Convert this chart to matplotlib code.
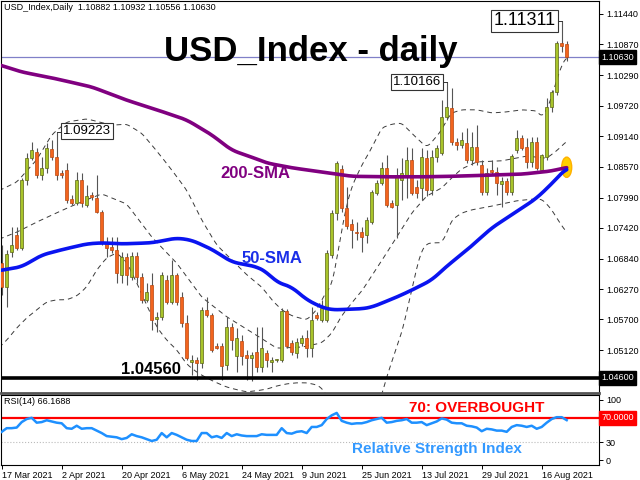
import matplotlib
matplotlib.use('Agg')
import matplotlib.pyplot as plt
from matplotlib.patches import Ellipse
from matplotlib.transforms import blended_transform_factory
import numpy as np

# daily candles, 17 Mar 2021 .. 20 Aug 2021 (bar index 0..113)
opens = [1.0676, 1.0631, 1.0697, 1.0729, 1.0704, 1.0832, 1.0873, 1.0885, 1.0842, 1.0855,
         1.0890, 1.0875, 1.0845, 1.0851, 1.0796, 1.0789, 1.0832, 1.0785, 1.0804, 1.0798,
         1.0772, 1.0716, 1.0706, 1.0700, 1.0654, 1.0687, 1.0650, 1.0689, 1.0650, 1.0607,
         1.0635, 1.0571, 1.0575, 1.0644, 1.0603, 1.0654, 1.0612, 1.0563, 1.0490, 1.0494,
         1.0488, 1.0588, 1.0578, 1.0520, 1.0520, 1.0484, 1.0556, 1.0501, 1.0530, 1.0503,
         1.0498, 1.0509, 1.0481, 1.0507, 1.0490, 1.0494, 1.0494, 1.0586, 1.0526, 1.0507,
         1.0526, 1.0535, 1.0516, 1.0578, 1.0569, 1.0569, 1.0691, 1.0770, 1.0853, 1.0780,
         1.0750, 1.0735, 1.0735, 1.0729, 1.0753, 1.0808, 1.0827, 1.0855, 1.0789, 1.0785,
         1.0832, 1.0842, 1.0870, 1.0819, 1.0817, 1.0873, 1.0813, 1.0875, 1.0883, 1.0950,
         1.0967, 1.0903, 1.0898, 1.0901, 1.0870, 1.0894, 1.0860, 1.0809, 1.0851, 1.0847,
         1.0825, 1.0830, 1.0809, 1.0888, 1.0911, 1.0894, 1.0866, 1.0903, 1.0851, 1.0875,
         1.0969, 1.0997, 1.1089, 1.10882]
highs = [1.0710, 1.0700, 1.0744, 1.0744, 1.0836, 1.0883, 1.0903, 1.0892, 1.0875, 1.0902,
         1.0907, 1.09223, 1.0851, 1.0864, 1.0804, 1.0847, 1.0845, 1.0823, 1.0810, 1.0842,
         1.0776, 1.0725, 1.0725, 1.0725, 1.0697, 1.0695, 1.0697, 1.0697, 1.0657, 1.0639,
         1.0657, 1.0584, 1.0659, 1.0654, 1.0682, 1.0657, 1.0622, 1.0578, 1.0503, 1.0499,
         1.0593, 1.0612, 1.0582, 1.0526, 1.0526, 1.0575, 1.0563, 1.0554, 1.0541, 1.0513,
         1.0509, 1.0556, 1.0556, 1.0513, 1.0499, 1.0496, 1.0591, 1.0589, 1.0531, 1.0535,
         1.0541, 1.0550, 1.0593, 1.0584, 1.0607, 1.0700, 1.0776, 1.0868, 1.0860, 1.0819,
         1.0759, 1.0753, 1.0744, 1.0763, 1.0813, 1.0832, 1.0866, 1.0879, 1.0795, 1.0855,
         1.0873, 1.0894, 1.0892, 1.0832, 1.0892, 1.0888, 1.0888, 1.0898, 1.0982, 1.10166,
         1.1005, 1.0911, 1.0922, 1.0930, 1.0922, 1.0935, 1.0870, 1.0855, 1.0870, 1.0857,
         1.0838, 1.0836, 1.0881, 1.0926, 1.0917, 1.0911, 1.0913, 1.0913, 1.0881, 1.0986,
         1.1001, 1.1093, 1.11311, 1.10932]
lows = [1.0616, 1.0593, 1.0687, 1.0700, 1.0700, 1.0823, 1.0870, 1.0836, 1.0832, 1.0845,
        1.0870, 1.0832, 1.0836, 1.0789, 1.0785, 1.0785, 1.0781, 1.0781, 1.0795, 1.0770,
        1.0710, 1.0687, 1.0695, 1.0639, 1.0639, 1.0635, 1.0644, 1.0639, 1.0601, 1.0603,
        1.0550, 1.0546, 1.0569, 1.0599, 1.0599, 1.0597, 1.0556, 1.0494, 1.0466, 1.0456,
        1.0479, 1.0575, 1.0509, 1.0514, 1.0456, 1.0475, 1.0513, 1.0471, 1.0484, 1.0456,
        1.0455, 1.0471, 1.0471, 1.0481, 1.0471, 1.0490, 1.0490, 1.0516, 1.0503, 1.0498,
        1.0520, 1.0499, 1.0499, 1.0569, 1.0565, 1.0565, 1.0685, 1.0757, 1.0772, 1.0740,
        1.0704, 1.0719, 1.0697, 1.0714, 1.0749, 1.0804, 1.0823, 1.0781, 1.0780, 1.0723,
        1.0795, 1.0798, 1.0804, 1.0798, 1.0795, 1.0802, 1.0804, 1.0866, 1.0879, 1.0945,
        1.0898, 1.0888, 1.0892, 1.0864, 1.0860, 1.0860, 1.0804, 1.0804, 1.0842, 1.0804,
        1.0781, 1.0804, 1.0804, 1.0883, 1.0888, 1.0855, 1.0857, 1.0851, 1.0847, 1.0870,
        1.0960, 1.0992, 1.1073, 1.10556]
closes = [1.0631, 1.0693, 1.0710, 1.0704, 1.0832, 1.0873, 1.0888, 1.0842, 1.0855, 1.0892,
          1.0875, 1.0842, 1.0842, 1.0795, 1.0789, 1.0832, 1.0789, 1.0802, 1.0800, 1.0772,
          1.0716, 1.0704, 1.0700, 1.0658, 1.0687, 1.0654, 1.0689, 1.0650, 1.0607, 1.0622,
          1.0569, 1.0575, 1.0654, 1.0603, 1.0654, 1.0603, 1.0563, 1.0498, 1.0494, 1.0488,
          1.0588, 1.0578, 1.0513, 1.0516, 1.0482, 1.0556, 1.0531, 1.0535, 1.0501, 1.0498,
          1.0503, 1.0480, 1.0516, 1.0494, 1.0494, 1.0494, 1.0586, 1.0520, 1.0509, 1.0528,
          1.0535, 1.0516, 1.0569, 1.0573, 1.0591, 1.0695, 1.0770, 1.0864, 1.0780, 1.0746,
          1.0738, 1.0733, 1.0725, 1.0757, 1.0809, 1.0827, 1.0855, 1.0785, 1.0781, 1.0842,
          1.0845, 1.0870, 1.0808, 1.0808, 1.0875, 1.0813, 1.0875, 1.0892, 1.0950, 1.0969,
          1.0903, 1.0898, 1.0907, 1.0870, 1.0894, 1.0866, 1.0809, 1.0845, 1.0847, 1.0827,
          1.0830, 1.0809, 1.0877, 1.0911, 1.0892, 1.0866, 1.0903, 1.0855, 1.0879, 1.0969,
          1.0997, 1.1089, 1.1084, 1.10630]

# bollinger bands
upper_i = [-1, 3, 7, 10, 13, 17, 22, 25, 28, 30, 32, 34, 37, 40, 43, 46, 49, 52, 54, 56,
           58, 61, 63, 64, 65, 66, 67, 68, 69, 70, 72, 73, 75, 76, 78, 80, 82, 84, 85, 86,
           88, 89, 90, 92, 95, 98, 101, 104, 107, 108, 109, 110, 111, 112, 113]
upper = [1.0810, 1.0828, 1.0870, 1.0917, 1.0941, 1.0947, 1.0935, 1.0937, 1.0920, 1.0898,
         1.0875, 1.0851, 1.0813, 1.0757, 1.0710, 1.0682, 1.0654, 1.0631, 1.0607, 1.0588,
         1.0577, 1.0569, 1.0588, 1.0607, 1.0622, 1.0635, 1.0682, 1.0738, 1.0785, 1.0819,
         1.0860, 1.0875, 1.0911, 1.0930, 1.0937, 1.0939, 1.0920, 1.0902, 1.0894, 1.0903,
         1.0926, 1.0945, 1.0958, 1.0964, 1.0964, 1.0958, 1.0960, 1.0964, 1.0962, 1.0950,
         1.0964, 1.0988, 1.1020, 1.1048, 1.1063]
mid_i = [-1, 3, 7, 10, 13, 17, 20, 25, 30, 35, 40, 45, 50, 55, 60, 64, 66, 68, 70, 72,
         74, 77, 80, 82, 85, 88, 90, 92, 95, 100, 105, 109, 111, 113]
mid = [1.0719, 1.0734, 1.0753, 1.0766, 1.0779, 1.0795, 1.0806, 1.0787, 1.0725, 1.0676,
       1.0612, 1.0575, 1.0546, 1.0516, 1.0518, 1.0526, 1.0544, 1.0577, 1.0601, 1.0623,
       1.0652, 1.0695, 1.0740, 1.0770, 1.0802, 1.0817, 1.0836, 1.0853, 1.0866, 1.0868,
       1.0877, 1.0873, 1.0887, 1.0905]
lower_i = [-1, 1, 3, 5, 7, 9, 11, 13, 15, 17, 19, 21, 23, 25, 27, 29, 31, 33, 35, 37,
           39, 41, 43, 45, 47, 49, 51, 53, 55, 57, 59, 61, 63, 64, 65, 66, 68, 72, 75, 76,
           77, 78, 79, 80, 81, 82, 83, 84, 85, 86, 88, 89, 90, 92, 94, 97, 100, 103, 106, 108,
           109, 110, 111, 112, 113]
lower = [1.0513, 1.0531, 1.0554, 1.0573, 1.0588, 1.0603, 1.0607, 1.0607, 1.0614, 1.0631,
         1.0663, 1.0686, 1.0695, 1.0678, 1.0639, 1.0597, 1.0556, 1.0531, 1.0513, 1.0486,
         1.0471, 1.0460, 1.0451, 1.0443, 1.0438, 1.0434, 1.0436, 1.0439, 1.0445, 1.0449,
         1.0451, 1.0451, 1.0447, 1.0441, 1.0428, 1.0400, 1.0372, 1.0362, 1.0400, 1.0428,
         1.0462, 1.0490, 1.0518, 1.0545, 1.0584, 1.0625, 1.0667, 1.0700, 1.0712, 1.0714,
         1.0714, 1.0732, 1.0757, 1.0770, 1.0776, 1.0781, 1.0787, 1.0793, 1.0796, 1.0796,
         1.0787, 1.0776, 1.0761, 1.0746, 1.0734]

# moving averages
sma200_i = [-1, 4, 10, 18, 25, 31, 37, 42, 46, 50, 53, 58, 64, 70, 77, 84, 90, 97, 104, 110, 113]
sma200 = [1.1050, 1.1035, 1.1024, 1.1007, 1.0982, 1.0964, 1.0945, 1.0917, 1.0888, 1.0875,
          1.0864, 1.0855, 1.0847, 1.0839, 1.0838, 1.0838, 1.0839, 1.0841, 1.0843, 1.0849, 1.0856]
sma50_i = [-1, 4, 8, 12, 17, 20, 24, 30, 35, 38, 42, 46, 51, 53, 55, 58, 61, 64, 66, 72,
           74, 79, 82, 86, 89, 93, 98, 104, 107, 110, 113]
sma50 = [1.0661, 1.0669, 1.0691, 1.0701, 1.0712, 1.0714, 1.0712, 1.0714, 1.0723, 1.0719,
         1.0702, 1.0678, 1.0669, 1.0659, 1.0640, 1.0631, 1.0607, 1.0593, 1.0588, 1.0590,
         1.0593, 1.0612, 1.0625, 1.0644, 1.0670, 1.0700, 1.0742, 1.0779, 1.0798, 1.0825, 1.0855]

rsi = [47, 53, 53, 54, 63, 68, 70, 62, 63, 66, 64, 62, 61, 53, 52, 57, 52, 53, 53, 49,
       45, 40, 39, 38, 35, 37, 43, 40, 38, 35, 32, 34, 45, 38, 45, 42, 38, 34, 32, 32,
       45, 45, 38, 40, 37, 45, 40, 43, 41, 40, 40, 40, 43, 42, 42, 42, 53, 45, 44, 47,
       48, 45, 55, 55, 58, 68, 74, 78, 65, 62, 60, 61, 61, 63, 66, 68, 70, 62, 63, 65,
       66, 68, 62, 62, 63, 58, 61, 64, 69, 67, 62, 61, 61, 57, 56, 54, 48, 52, 51, 49,
       49, 47, 55, 58, 57, 55, 57, 52, 55, 62, 68, 71, 71, 66.17]

date_pos = [0, 12, 24, 36, 48, 60, 72, 84, 96, 108]
date_labels = ['17 Mar 2021', '2 Apr 2021', '20 Apr 2021', '6 May 2021', '24 May 2021',
               '9 Jun 2021', '25 Jun 2021', '13 Jul 2021', '29 Jul 2021', '16 Aug 2021']
price_ticks = [1.11440, 1.10870, 1.10290, 1.09720, 1.09140, 1.08570, 1.07990,
               1.07420, 1.06840, 1.06270, 1.05700, 1.05120]
last_price = 1.10630
support = 1.04600

small = 'Liberation Sans'


def smooth_line(xs, ys, win=9):
    # only for drawing: densify the read points and round off the corners
    xf = np.linspace(xs[0], xs[-1], 600)
    yf = np.interp(xf, xs, ys)
    pad = win // 2
    yp = np.concatenate([np.full(pad, yf[0]), yf, np.full(pad, yf[-1])])
    ys2 = np.convolve(yp, np.ones(win) / win, mode='valid')
    return xf, ys2


fig = plt.figure(figsize=(6.4, 4.8), dpi=100)
fig.patch.set_facecolor('white')
ax = fig.add_axes([1/640, 1-393/480, 598/640, 392/480])
rx = fig.add_axes([1/640, 1-465/480, 598/640, 70/480])

o = np.array(opens); h = np.array(highs); l = np.array(lows); c = np.array(closes)
x = np.arange(len(o))
up = c >= o
lo = np.minimum(o, c)
body = np.maximum(np.abs(c - o), 0.00008)

dash = (0, (5, 4))
for bx, by in [(upper_i, upper), (mid_i, mid), (lower_i, lower)]:
    sx, sy = smooth_line(bx, by, 7)
    ax.plot(sx, sy, color='#3a3a3a', lw=0.7, ls=dash, zorder=2)

ax.axhline(last_price, color='#8080c8', lw=0.9, zorder=1)
ax.axhline(support, color='black', lw=2.6, zorder=6)

ax.vlines(x, l, h, color='#555555', lw=0.8, zorder=3)
ax.bar(x[up], body[up], bottom=lo[up], width=0.62, color='#a8c42a',
       edgecolor='#5c6614', lw=0.5, zorder=4)
ax.bar(x[~up], body[~up], bottom=lo[~up], width=0.62, color='#f2641e',
       edgecolor='#b9470f', lw=0.5, zorder=4)

ax.add_patch(Ellipse((113, 1.0856), 2.0, 0.0038, fc='#ffd000', ec='#ffb000', lw=1, zorder=4.5))
sx, sy = smooth_line(sma200_i, sma200, 15)
ax.plot(sx, sy, color='#800080', lw=2.6, zorder=5, solid_capstyle='round')
sx, sy = smooth_line(sma50_i, sma50, 15)
ax.plot(sx, sy, color='#0a14f0', lw=2.6, zorder=5, solid_capstyle='round')

# price labels with connector
box = dict(boxstyle='square,pad=0.15', fc='white', ec='#333333', lw=0.8)
ax.plot([11, 12.3], [1.09223, 1.09223], color='#333333', lw=0.7, zorder=6)
ax.text(17, 1.0924, '1.09223', fontsize=9.5, family=small, ha='center', va='center',
        bbox=box, zorder=7)
ax.plot([87.7, 89], [1.10166, 1.10166], color='#333333', lw=0.7, zorder=6)
ax.text(83.1, 1.1016, '1.10166', fontsize=9.5, family=small, ha='center', va='center',
        bbox=box, zorder=7)
ax.plot([110.9, 112], [1.11311, 1.11311], color='#333333', lw=0.7, zorder=6)
ax.text(104.6, 1.1131, '1.11311', fontsize=13, family=small, ha='center', va='center',
        bbox=box, zorder=7)

ax.text(0.518, 0.872, 'USD_Index - daily', transform=ax.transAxes, ha='center', va='center',
        fontsize=25, fontweight='bold', family='Liberation Sans', zorder=8)
ax.text(0.426, 0.559, '200-SMA', transform=ax.transAxes, ha='center', va='center',
        fontsize=12, fontweight='bold', color='#800080', family='Liberation Sans', zorder=8)
ax.text(0.453, 0.344, '50-SMA', transform=ax.transAxes, ha='center', va='center',
        fontsize=12, fontweight='bold', color='#1a2ee8', family='Liberation Sans', zorder=8)
ax.text(0.251, 0.061, '1.04560', transform=ax.transAxes, ha='center', va='center',
        fontsize=12, fontweight='bold', color='black', family='Liberation Sans', zorder=8)

ax.set_xlim(-0.14, 119.46)
ax.set_ylim(1.04318, 1.11684)
ax.yaxis.tick_right()
ax.set_yticks(price_ticks)
ax.set_yticklabels([f'{v:.5f}' for v in price_ticks], family=small)
ax.tick_params(axis='y', labelsize=6.5, length=3, pad=2, width=0.7)
ax.tick_params(axis='x', bottom=False, labelbottom=False)
for s in ax.spines.values():
    s.set_linewidth(0.8)
ax.spines['bottom'].set_linewidth(2)
ax.spines['bottom'].set_color('#555555')

tr = blended_transform_factory(ax.transAxes, ax.transData)
for v in [last_price, support]:
    ax.text(1.004, v, f'{v:.5f}', transform=tr, fontsize=6.5, color='white', ha='left',
            va='center', family=small,
            bbox=dict(boxstyle='square,pad=0.25', fc='black', ec='black'))

fig.text(4/640, 1-7/480, 'USD_Index,Daily  1.10882 1.10932 1.10556 1.10630', fontsize=6.5,
         ha='left', va='center', family=small)

# RSI panel
rx.plot(x, rsi, color='#1e90ff', lw=1.8, zorder=3)
rx.axhline(70, color='red', lw=1.6, zorder=2)
rx.axhline(30, color='#bbbbbb', lw=0.8, ls=':', zorder=1)
rx.set_xlim(-0.14, 119.46)
rx.set_ylim(-7.4, 107.4)
rx.yaxis.tick_right()
rx.set_yticks([0, 30, 100])
rx.set_yticklabels(['0', '30', '100'], family=small)
rx.tick_params(axis='y', labelsize=6.5, length=3, pad=2, width=0.7)
rx.set_xticks(date_pos)
rx.set_xticklabels(date_labels, ha='left', family=small)
rx.tick_params(axis='x', labelsize=6.5, length=3, pad=1.5, width=0.7)
for s in rx.spines.values():
    s.set_linewidth(0.8)
rtr = blended_transform_factory(rx.transAxes, rx.transData)
rx.text(1.004, 70, '70.0000', transform=rtr, fontsize=6.5, color='white', ha='left',
        va='center', family=small, bbox=dict(boxstyle='square,pad=0.25', fc='red', ec='red'))
rx.text(0.005, 0.9, 'RSI(14) 66.1688', transform=rx.transAxes, fontsize=6.5, ha='left',
        va='center', family=small)
rx.text(0.796, 0.814, '70: OVERBOUGHT', transform=rx.transAxes, fontsize=11, fontweight='bold',
        color='red', ha='center', va='center', family='Liberation Sans')
rx.text(0.729, 0.229, 'Relative Strength Index', transform=rx.transAxes, fontsize=11,
        fontweight='bold', color='#3399ff', ha='center', va='center', family='Liberation Sans')

fig.savefig('out.png', dpi=100)
